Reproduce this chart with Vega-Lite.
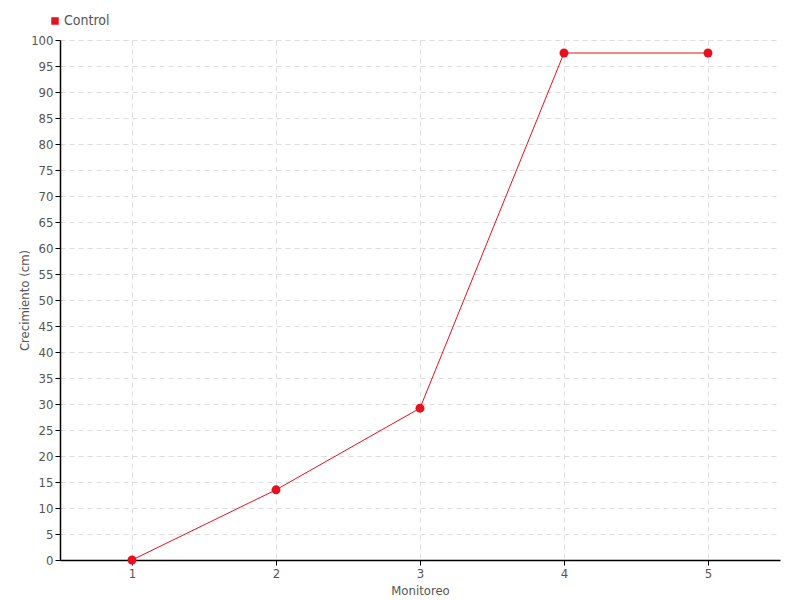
{
  "$schema": "https://vega.github.io/schema/vega-lite/v6.json",
  "width": 720,
  "height": 520,
  "autosize": "none",
  "padding": {"left": 60, "top": 40, "right": 20, "bottom": 40},
  "background": "white",
  "config": {
    "view": {"stroke": null},
    "font": "DejaVu Sans Condensed",
    "axis": {
      "labelColor": "#555555",
      "titleColor": "#555555",
      "labelFontSize": 13,
      "titleFontSize": 13,
      "titleFontWeight": "normal",
      "domainColor": "#000000",
      "domainWidth": 1.5,
      "tickColor": "#000000",
      "tickSize": 5,
      "gridColor": "#dddddd",
      "gridDash": [5, 4],
      "labelFont": "DejaVu Sans Condensed",
      "titleFont": "DejaVu Sans Condensed"
    },
    "legend": {"labelFont": "DejaVu Sans Condensed", "labelFontSize": 14, "labelColor": "#555555"}
  },
  "data": {
    "values": [
      {"Monitoreo": 1, "Crecimiento": 0, "serie": "Control"},
      {"Monitoreo": 2, "Crecimiento": 13.5, "serie": "Control"},
      {"Monitoreo": 3, "Crecimiento": 29.2, "serie": "Control"},
      {"Monitoreo": 4, "Crecimiento": 97.5, "serie": "Control"},
      {"Monitoreo": 5, "Crecimiento": 97.5, "serie": "Control"}
    ]
  },
  "encoding": {
    "x": {
      "field": "Monitoreo", "type": "quantitative",
      "scale": {"domain": [0.5, 5.5], "nice": false, "zero": false},
      "axis": {"values": [1, 2, 3, 4, 5], "title": "Monitoreo", "titleY": 30, "titleBaseline": "middle", "labelPadding": 2}
    },
    "y": {
      "field": "Crecimiento", "type": "quantitative",
      "scale": {"domain": [0, 100], "nice": false},
      "axis": {"values": [0,5,10,15,20,25,30,35,40,45,50,55,60,65,70,75,80,85,90,95,100], "title": "Crecimiento (cm)", "titleX": -36, "titleBaseline": "middle", "labelPadding": 2}
    },
    "color": {
      "field": "serie", "type": "nominal",
      "scale": {"range": ["#e8101e"]},
      "legend": {"orient": "none", "legendX": -12, "legendY": -26, "title": null, "symbolType": "square", "symbolSize": 36, "labelOffset": 2}
    }
  },
  "layer": [
    {"mark": {"type": "line", "strokeWidth": 1}},
    {"mark": {"type": "circle", "size": 80, "opacity": 1}}
  ]
}
